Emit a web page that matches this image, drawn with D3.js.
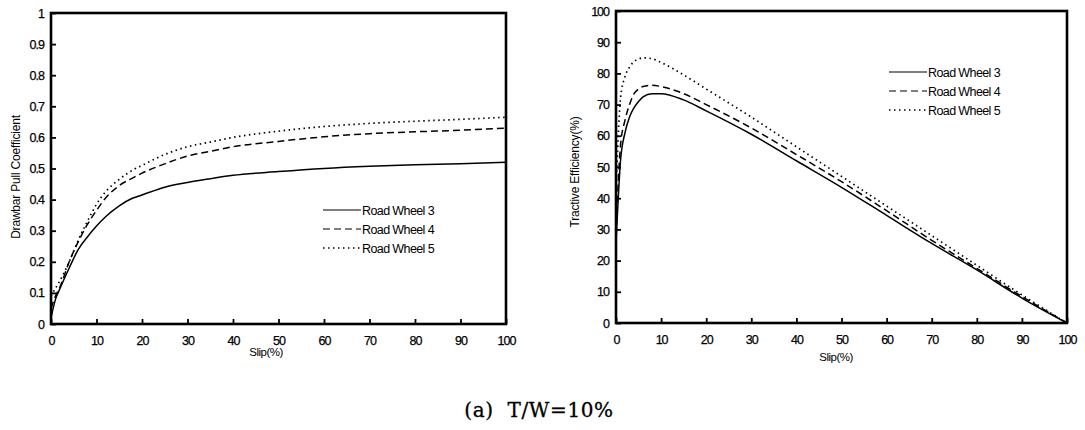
<!DOCTYPE html>
<html>
<head>
<meta charset="utf-8">
<script src="https://cdn.jsdelivr.net/npm/d3@7"></script>
<style>
  body { margin: 0; background: #fff; }
  text { font-family: "Liberation Sans", Arial, sans-serif; fill: #000; }
</style>
</head>
<body>
<svg width="1085" height="430"></svg>
<script>
// slip values (%) shared by the curves
var slipDP = [0, 1, 2, 4, 6, 8, 10, 12, 15, 18, 20, 25, 30, 35, 40, 50, 60, 70, 80, 90, 100];
// drawbar pull coefficient
var dpRW3 = [0.02, 0.08, 0.115, 0.18, 0.24, 0.28, 0.315, 0.345, 0.38, 0.405, 0.415, 0.44, 0.455, 0.467, 0.478, 0.49, 0.5, 0.507, 0.512, 0.515, 0.52];
var dpRW4 = [0.05, 0.09, 0.12, 0.2, 0.265, 0.32, 0.365, 0.405, 0.445, 0.47, 0.485, 0.515, 0.54, 0.555, 0.57, 0.587, 0.602, 0.612, 0.618, 0.623, 0.63];
var dpRW5 = [0.09, 0.115, 0.14, 0.2, 0.27, 0.33, 0.385, 0.425, 0.465, 0.495, 0.51, 0.545, 0.57, 0.585, 0.6, 0.62, 0.635, 0.645, 0.652, 0.658, 0.665];

var slipTE = [0, 0.5, 1, 2, 3, 4, 5, 6, 8, 10, 15, 20, 30, 40, 50, 60, 70, 80, 90, 100];
// tractive efficiency (%)
var teRW3 = [26, 40, 52, 61, 66, 69, 71, 72.5, 73.5, 73.5, 71.5, 68, 60.5, 52, 43.5, 34.5, 25.5, 17, 8, 0];
var teRW4 = [28, 45, 57, 65, 70, 73.5, 75, 75.8, 76.2, 75.8, 73.5, 70, 62.5, 54, 45.3, 36, 26.5, 17.5, 8.5, 0];
var teRW5 = [42, 60, 72, 79, 82, 83.8, 84.6, 85, 84.7, 83.5, 79.5, 75, 66, 56.5, 47, 37.5, 28, 18.5, 9, 0];

var xTicks = [0, 10, 20, 30, 40, 50, 60, 70, 80, 90, 100];
var dpTicks = [0, 0.1, 0.2, 0.3, 0.4, 0.5, 0.6, 0.7, 0.8, 0.9, 1];
var teTicks = [0, 10, 20, 30, 40, 50, 60, 70, 80, 90, 100];
var seriesNames = ["Road Wheel 3", "Road Wheel 4", "Road Wheel 5"];
var dashes = [null, "7,4", "1.5,3.5"];

var svg = d3.select("svg");

function drawPanel(opt) {
  var x = d3.scaleLinear().domain([0, 100]).range([opt.left, opt.right]);
  var y = d3.scaleLinear().domain(opt.ydom).range([opt.bottom, opt.top]);

  var gx = svg.append("g")
    .attr("transform", "translate(0," + opt.bottom + ")")
    .call(d3.axisBottom(x).tickValues(xTicks).tickSize(-5).tickPadding(12));
  var gy = svg.append("g")
    .attr("transform", "translate(" + opt.left + ",0)")
    .call(d3.axisLeft(y).tickValues(opt.yticks).tickSize(-5).tickPadding(7).tickFormat(opt.fmt));
  [gx, gy].forEach(function (g) {
    g.select(".domain").remove();
    g.selectAll(".tick line").attr("stroke", "#000").attr("stroke-width", 1.8);
    g.selectAll(".tick text").style("font-size", "12.5px").style("letter-spacing", "-1px")
      .style("font-family", "'Liberation Sans', Arial, sans-serif")
      .attr("stroke", "#000").attr("stroke-width", 0.25);
  });

  // frame
  svg.append("rect")
    .attr("x", opt.left).attr("y", opt.top)
    .attr("width", opt.right - opt.left).attr("height", opt.bottom - opt.top)
    .attr("fill", "none").attr("stroke", "#000").attr("stroke-width", 2.6);

  var line = d3.line()
    .x(function (d) { return x(d[0]); })
    .y(function (d) { return y(d[1]); })
    .curve(d3.curveMonotoneX);

  opt.series.forEach(function (vals, i) {
    var pts = opt.slip.map(function (s, k) { return [s, vals[k]]; });
    svg.append("path")
      .datum(pts)
      .attr("d", line)
      .attr("fill", "none")
      .attr("stroke", "#000")
      .attr("stroke-width", i == 2 ? 1.7 : 1.5)
      .attr("stroke-dasharray", dashes[i]);
  });

  // legend
  seriesNames.forEach(function (name, i) {
    var ly = opt.legY + i * 19;
    svg.append("line")
      .attr("x1", opt.legX).attr("x2", opt.legX + 38)
      .attr("y1", ly).attr("y2", ly)
      .attr("stroke", "#000").attr("stroke-width", i == 2 ? 1.4 : 1.2)
      .attr("stroke-dasharray", dashes[i]);
    svg.append("text")
      .attr("x", opt.legX + 39).attr("y", ly + 4.5)
      .style("font-size", "12.5px").style("letter-spacing", "-0.6px")
      .text(name);
  });

  svg.append("text")
    .attr("x", opt.slipX).attr("y", opt.slipY)
    .attr("text-anchor", "middle")
    .style("font-size", "11.5px").style("letter-spacing", "-0.5px")
    .text("Slip(%)");

  svg.append("text")
    .attr("transform", "translate(" + opt.ylabX + "," + opt.ylabY + ") rotate(-90)")
    .attr("text-anchor", "middle")
    .style("font-size", "12px").style("letter-spacing", "-0.2px")
    .text(opt.ylab);
}

drawPanel({
  left: 51, right: 506, top: 13, bottom: 324,
  ydom: [0, 1], yticks: dpTicks, fmt: d3.format("~g"),
  slip: slipDP, series: [dpRW3, dpRW4, dpRW5],
  legX: 323, legY: 210, slipX: 266, slipY: 356,
  ylab: "Drawbar Pull Coefficient", ylabX: 20, ylabY: 177
});

drawPanel({
  left: 616, right: 1067, top: 11, bottom: 323,
  ydom: [0, 100], yticks: teTicks, fmt: d3.format("d"),
  slip: slipTE, series: [teRW3, teRW4, teRW5],
  legX: 889, legY: 72, slipX: 836, slipY: 361,
  ylab: "Tractive Efficiency(%)", ylabX: 579, ylabY: 172
});

svg.append("text")
  .attr("x", 539).attr("y", 417)
  .attr("text-anchor", "middle")
  .attr("xml:space", "preserve")
  .style("white-space", "pre")
  .style("font-family", "'DejaVu Serif', 'Liberation Serif', serif")
  .style("font-size", "20px")
  .style("letter-spacing", "0.6px")
  .attr("stroke", "#000").attr("stroke-width", 0.3)
  .text("(a)  T/W=10%");
</script>
</body>
</html>
